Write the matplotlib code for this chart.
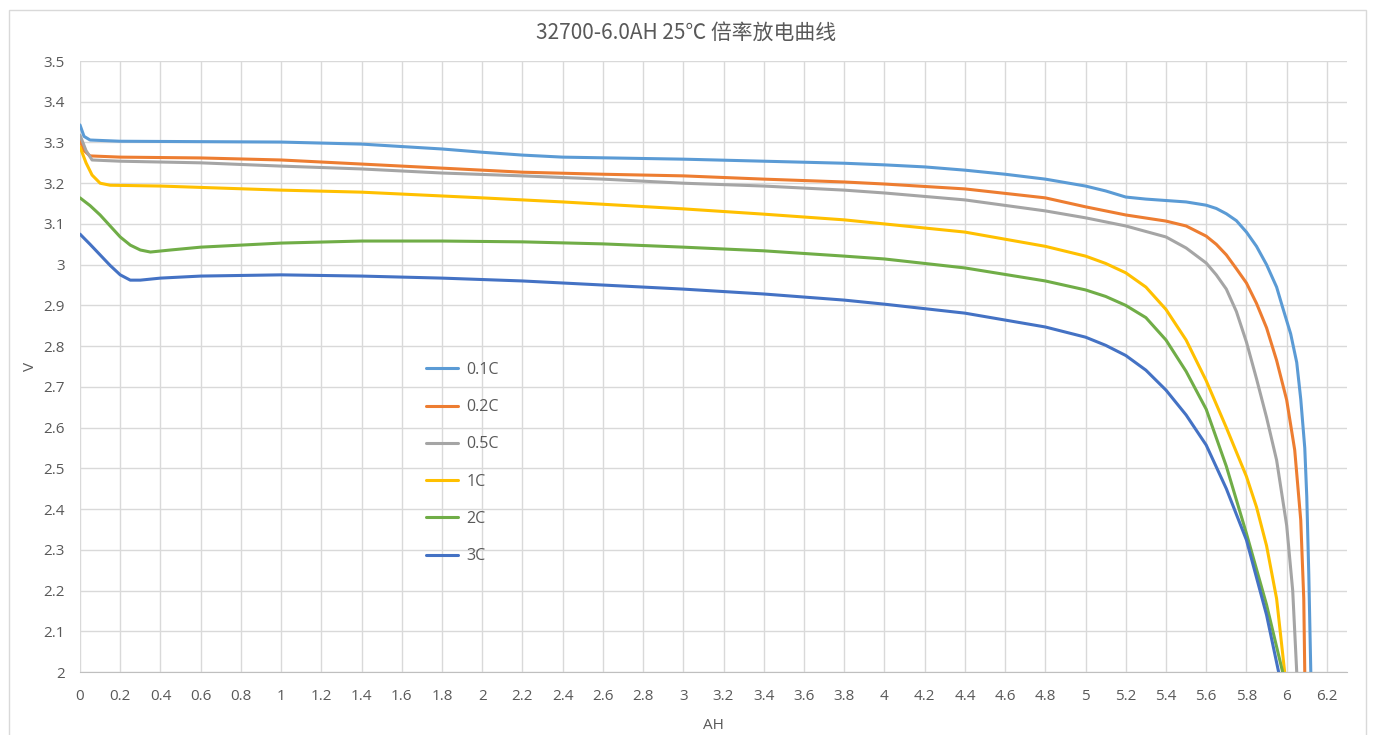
import matplotlib
matplotlib.use("Agg")
import numpy as np
import matplotlib.pyplot as plt
from matplotlib.patches import Rectangle

# discharge curves: capacity (AH) and voltage (V)
ah_01c = [0.0, 0.02, 0.05, 0.2, 0.6, 1.0, 1.4, 1.6, 1.8, 2.0, 2.2, 2.4, 3.0, 3.4, 3.8, 4.0, 4.2,
          4.4, 4.6, 4.8, 5.0, 5.1, 5.2, 5.3, 5.5, 5.6, 5.65, 5.7, 5.75, 5.8, 5.85, 5.9, 5.95,
          5.98, 6.02, 6.05, 6.07, 6.09, 6.1, 6.11, 6.12]
v_01c = [3.343, 3.315, 3.306, 3.303, 3.302, 3.301, 3.296, 3.29, 3.284, 3.276, 3.269, 3.264, 3.259,
         3.254, 3.249, 3.245, 3.24, 3.232, 3.222, 3.21, 3.193, 3.181, 3.166, 3.161, 3.154, 3.146,
         3.138, 3.125, 3.108, 3.08, 3.045, 3.0, 2.945, 2.895, 2.83, 2.76, 2.67, 2.55, 2.43, 2.24,
         2.0]

ah_02c = [0.0, 0.02, 0.05, 0.2, 0.6, 1.0, 1.4, 1.8, 2.2, 2.6, 3.0, 3.4, 3.8, 4.0, 4.4, 4.8, 5.0,
          5.2, 5.4, 5.5, 5.6, 5.65, 5.7, 5.75, 5.8, 5.85, 5.9, 5.95, 6.0, 6.04, 6.07, 6.085, 6.09]
v_02c = [3.306, 3.28, 3.267, 3.264, 3.262, 3.257, 3.247, 3.237, 3.227, 3.222, 3.218, 3.21, 3.203,
         3.198, 3.186, 3.164, 3.142, 3.122, 3.107, 3.095, 3.07, 3.05, 3.024, 2.99, 2.955, 2.905,
         2.845, 2.765, 2.668, 2.545, 2.373, 2.18, 2.0]

ah_05c = [0.0, 0.03, 0.06, 0.2, 0.6, 1.0, 1.4, 1.8, 2.2, 2.6, 3.0, 3.4, 3.8, 4.0, 4.4, 4.8, 5.0,
          5.2, 5.4, 5.5, 5.6, 5.65, 5.7, 5.75, 5.8, 5.85, 5.9, 5.95, 6.0, 6.03, 6.05]
v_05c = [3.318, 3.28, 3.257, 3.254, 3.25, 3.242, 3.235, 3.225, 3.218, 3.21, 3.2, 3.193, 3.183,
         3.176, 3.159, 3.132, 3.115, 3.095, 3.068, 3.041, 3.004, 2.975, 2.94, 2.885, 2.81, 2.72,
         2.625, 2.52, 2.36, 2.2, 2.0]

ah_1c = [0.0, 0.03, 0.06, 0.1, 0.15, 0.4, 1.0, 1.4, 2.0, 2.4, 3.0, 3.4, 3.8, 4.0, 4.4, 4.8, 5.0,
         5.1, 5.2, 5.3, 5.4, 5.5, 5.6, 5.7, 5.8, 5.85, 5.9, 5.95, 5.99]
v_1c = [3.289, 3.25, 3.22, 3.2, 3.195, 3.193, 3.183, 3.178, 3.164, 3.154, 3.137, 3.124, 3.11, 3.1,
        3.08, 3.045, 3.021, 3.003, 2.98, 2.945, 2.89, 2.815, 2.715, 2.6, 2.48, 2.405, 2.31, 2.18,
        2.0]

ah_2c = [0.0, 0.05, 0.1, 0.15, 0.2, 0.25, 0.3, 0.35, 0.45, 0.6, 1.0, 1.4, 1.8, 2.2, 2.6, 3.0, 3.4,
         3.8, 4.0, 4.4, 4.8, 5.0, 5.1, 5.2, 5.3, 5.4, 5.5, 5.6, 5.7, 5.8, 5.9, 5.98]
v_2c = [3.164, 3.145, 3.122, 3.095, 3.068, 3.048, 3.036, 3.031, 3.036, 3.043, 3.053, 3.058, 3.058,
        3.056, 3.051, 3.043, 3.034, 3.021, 3.014, 2.992, 2.96, 2.938, 2.922, 2.9, 2.87, 2.815,
        2.738, 2.645, 2.505, 2.34, 2.165, 2.0]

ah_3c = [0.0, 0.05, 0.1, 0.15, 0.2, 0.25, 0.3, 0.4, 0.6, 1.0, 1.4, 1.8, 2.2, 2.6, 3.0, 3.4, 3.8,
         4.0, 4.4, 4.8, 5.0, 5.1, 5.2, 5.3, 5.4, 5.5, 5.6, 5.7, 5.8, 5.9, 5.96]
v_3c = [3.075, 3.05, 3.024, 2.998, 2.975, 2.962, 2.962, 2.967, 2.972, 2.975, 2.972, 2.967, 2.96,
        2.95, 2.94, 2.928, 2.913, 2.903, 2.881, 2.847, 2.822, 2.802, 2.777, 2.741, 2.692, 2.631,
        2.557, 2.45, 2.324, 2.14, 2.0]

labels = ["0.1C", "0.2C", "0.5C", "1C", "2C", "3C"]
colors = ["#5B9BD5", "#ED7D31", "#A5A5A5", "#FFC000", "#70AD47", "#4472C4"]
series = [(ah_01c, v_01c), (ah_02c, v_02c), (ah_05c, v_05c),
          (ah_1c, v_1c), (ah_2c, v_2c), (ah_3c, v_3c)]

x_ticks = np.round(np.arange(0, 6.21, 0.2), 1)
y_ticks = np.round(np.arange(2.0, 3.51, 0.1), 1)

text_color = "#595959"
plt.rcParams['font.family'] = ['Open Sans', 'DejaVu Sans']

fig = plt.figure(figsize=(13.73, 7.35), dpi=100)
ax = fig.add_axes([80 / 1373, 1 - 672 / 735, (1347 - 80) / 1373, (672 - 61) / 735])

# light frame around the whole chart
fig.patches.append(Rectangle((9 / 1373, -0.05), (1366 - 9) / 1373, 1.05 - 10 / 735,
                             transform=fig.transFigure, fill=False,
                             edgecolor="#D9D9D9", linewidth=1.0))

for (xs, ys), lab, col in zip(series, labels, colors):
    ax.plot(xs, ys, color=col, linewidth=2.2, label=lab,
            solid_capstyle="round", solid_joinstyle="round")

ax.set_xlim(0, 6.3)
ax.set_ylim(2.0, 3.5)
ax.set_xticks(x_ticks)
ax.set_yticks(y_ticks)
ax.set_xticklabels([f"{v:g}" for v in x_ticks])
ax.set_yticklabels([f"{v:g}" for v in y_ticks])
ax.grid(True, color="#D9D9D9", linewidth=1.0)
ax.set_axisbelow(True)
for s in ["top", "right", "left"]:
    ax.spines[s].set_visible(False)
ax.spines["bottom"].set_color("#BFBFBF")
ax.tick_params(axis="both", length=0, labelsize=11, colors=text_color)
ax.tick_params(axis="x", pad=12)
ax.tick_params(axis="y", pad=11)

ax.set_xlabel("AH", fontsize=11, color=text_color, labelpad=10)
ax.set_ylabel("V", fontsize=11, color=text_color, labelpad=4)

fig.text(0.5, 1 - 33 / 735, "32700-6.0AH 25℃ 倍率放电曲线", ha="center", va="center",
         fontsize=15, color=text_color,
         family=['Noto Sans CJK SC', 'DejaVu Sans'])

ax.legend(loc="upper left", bbox_to_anchor=(418 / 1373, 1 - 354 / 735),
          bbox_transform=fig.transFigure, frameon=False, fontsize=11.5,
          labelcolor=text_color, handlelength=2.0, handletextpad=0.55,
          labelspacing=1.33, borderaxespad=0, borderpad=0.5)

fig.savefig("out.png", dpi=100)
